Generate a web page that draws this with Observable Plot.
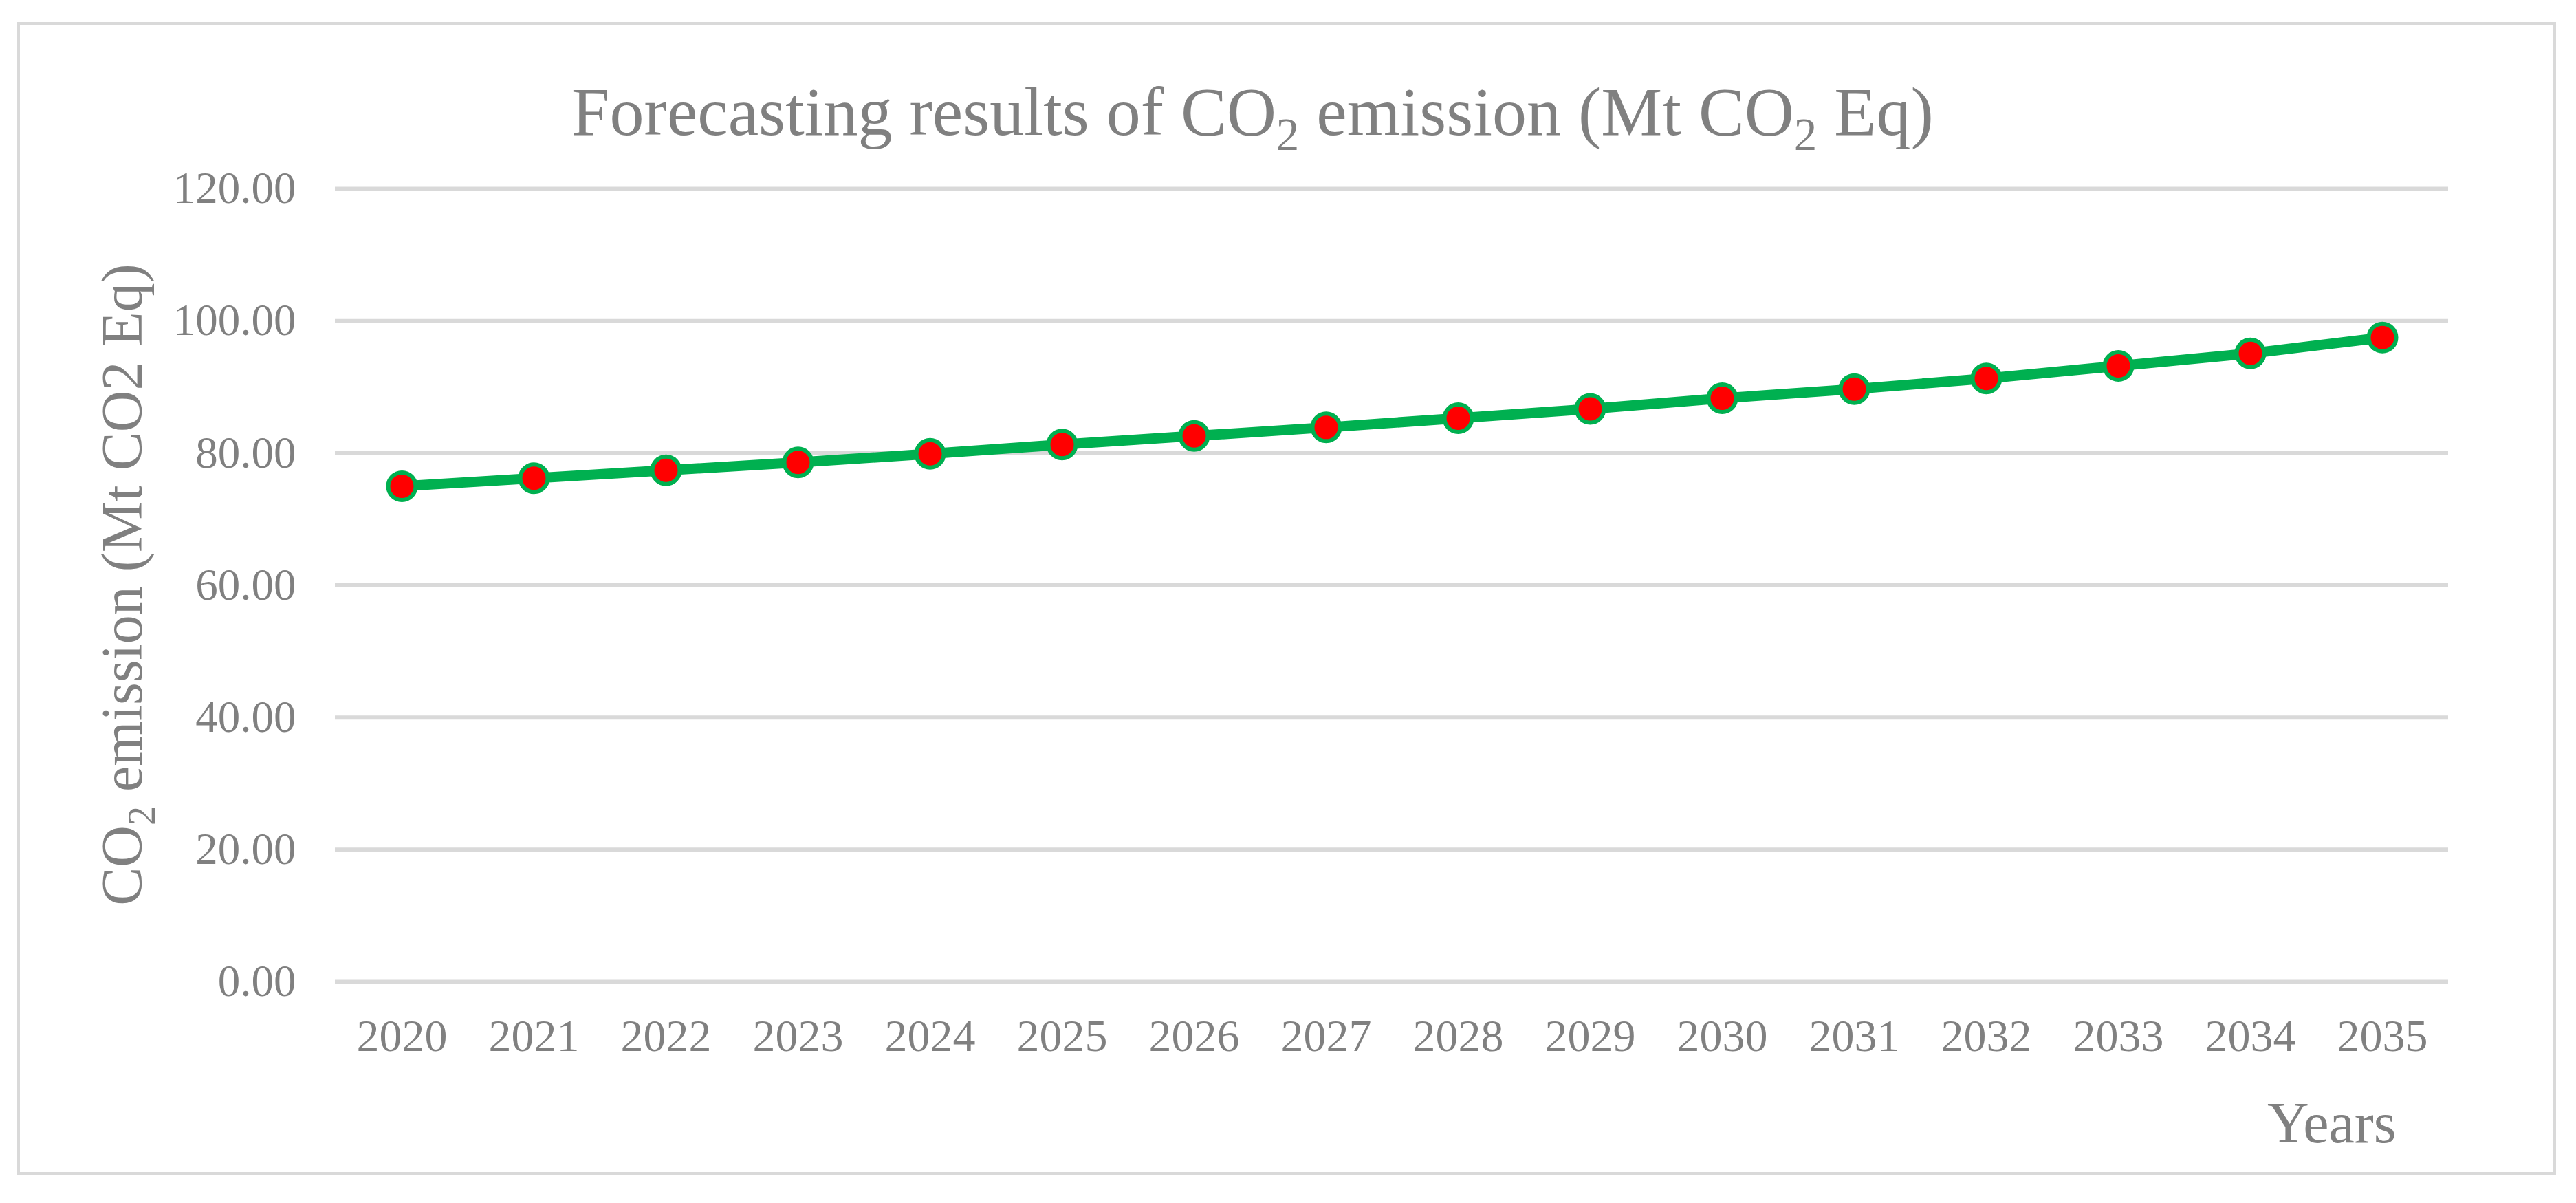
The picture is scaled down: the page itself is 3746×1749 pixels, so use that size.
<!DOCTYPE html>
<html>
<head>
<meta charset="utf-8">
<script src="https://cdn.jsdelivr.net/npm/d3@7"></script>
<script src="https://cdn.jsdelivr.net/npm/@observablehq/plot@0.6"></script>
<style>
  html, body { margin: 0; padding: 0; background: #ffffff; }
  #wrap { position: relative; width: 3746px; height: 1749px; overflow: hidden; background: #fff;
          font-family: "Liberation Serif", "Times New Roman", serif; color: #808080; }
  #frame { position: absolute; left: 24px; top: 32px; width: 3693px; height: 1677px;
           border: 5px solid #d9d9d9; box-sizing: border-box; }
  #chart { position: absolute; left: 0; top: 0; }
  .title { position: absolute; left: 831px; top: 113px; font-size: 100px; line-height: 100px; white-space: nowrap; }
  .ylabel { position: absolute; left: -422px; top: 800px; width: 1200px; height: 100px; font-size: 84px;
            line-height: 100px; text-align: center; white-space: nowrap; transform: rotate(-90deg); }
  .xlabel { position: absolute; left: 3297px; top: 1583px; font-size: 84px; line-height: 100px; white-space: nowrap; }
  .sub { position: relative; }
</style>
</head>
<body>
<div id="wrap">
  <div id="frame"></div>
  <div id="chart"></div>
  <div class="title">Forecasting results of CO<span class="sub" style="font-size:67px;top:22px">2</span> emission (Mt CO<span class="sub" style="font-size:67px;top:22px">2</span> Eq)</div>
  <div class="ylabel">CO<span class="sub" style="font-size:56px;top:19px">2</span> emission (Mt CO2 Eq)</div>
  <div class="xlabel">Years</div>
</div>
<script>
const years = ["2020","2021","2022","2023","2024","2025","2026","2027","2028","2029","2030","2031","2032","2033","2034","2035"];
const emissions = [75.0, 76.2, 77.4, 78.6, 79.9, 81.3, 82.6, 83.9, 85.3, 86.7, 88.3, 89.7, 91.3, 93.2, 95.1, 97.5];
const yTicks = [0, 20, 40, 60, 80, 100, 120];

const data = years.map((year, i) => ({year, value: emissions[i]}));

const plot = Plot.plot({
  width: 3746,
  height: 1749,
  marginLeft: 487,
  marginRight: 186,
  marginTop: 274,
  marginBottom: 322,
  style: {
    fontFamily: "'Liberation Serif', 'Times New Roman', serif",
    color: "#808080",
    background: "transparent",
    overflow: "visible"
  },
  x: { type: "point", domain: years, padding: 0.5 },
  y: { domain: [0, 120] },
  marks: [
    Plot.ruleY(yTicks, { stroke: "#d9d9d9", strokeWidth: 6 }),
    Plot.axisY({ ticks: yTicks, tickSize: 0, tickPadding: 57, fontSize: 65, label: null,
                 tickFormat: d => d.toFixed(2), fill: "#808080" }),
    Plot.axisX({ ticks: years, tickSize: 0, tickPadding: 54, fontSize: 66, label: null, fill: "#808080" }),
    Plot.line(data, { x: "year", y: "value", stroke: "#00B050", strokeWidth: 15, strokeLinejoin: "round" }),
    Plot.dot(data, { x: "year", y: "value", r: 20, fill: "#FF0000", stroke: "#00B050", strokeWidth: 6 })
  ]
});
document.getElementById("chart").appendChild(plot);
</script>
</body>
</html>
